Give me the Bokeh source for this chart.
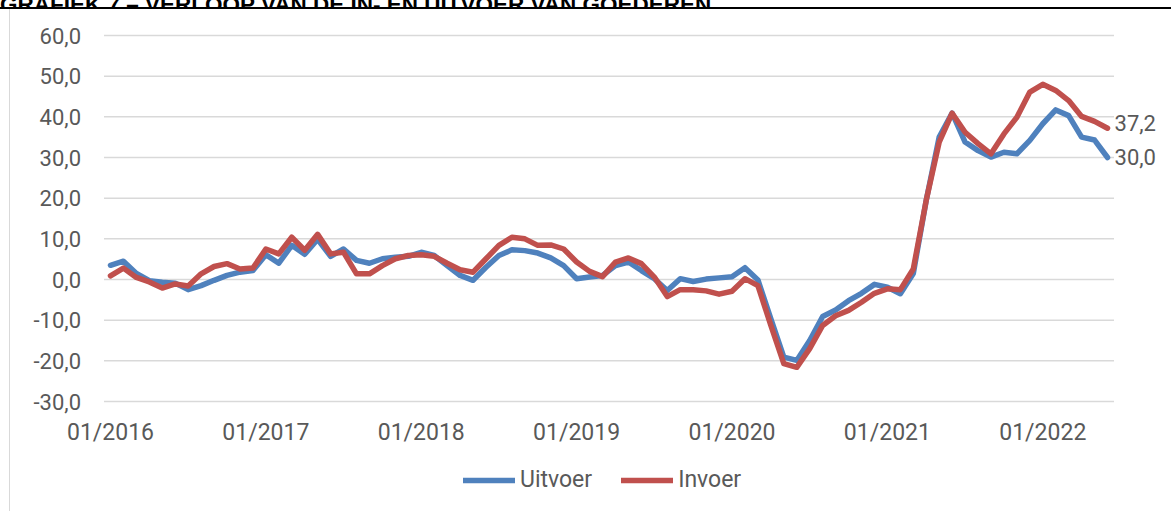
from bokeh.plotting import figure
from bokeh.models import Range1d, Legend, LegendItem, Label, Div
from bokeh.layouts import column, row
from bokeh.core.properties import value
from bokeh.embed import file_html
from bokeh.resources import INLINE

# ---- data (monthly, 01/2016 .. 06/2022) ----
months = list(range(78))
uitvoer = [3.5, 4.5, 1.5, -0.3, -0.7, -0.9, -2.5, -1.5, -0.2, 1.0, 1.8, 2.2,
           6.1, 4.0, 8.4, 6.2, 9.9, 5.7, 7.5, 4.7, 4.0, 5.1, 5.5, 5.7,
           6.7, 5.9, 3.4, 1.0, -0.2, 3.0, 5.9, 7.3, 7.1, 6.5, 5.3, 3.4,
           0.2, 0.6, 1.0, 3.4, 4.3, 2.2, 0.2, -2.7, 0.2, -0.5, 0.1, 0.4,
           0.7, 2.9, -0.1, -9.7, -19.1, -19.9, -15.0, -9.1, -7.5, -5.2, -3.4, -1.2,
           -1.9, -3.5, 1.5, 19.5, 35.0, 40.9, 33.8, 31.7, 30.1, 31.3, 30.9, 34.2,
           38.3, 41.7, 40.3, 35.0, 34.3, 30.0]
invoer = [0.9, 2.8, 0.5, -0.6, -2.1, -1.1, -1.6, 1.4, 3.2, 3.9, 2.6, 2.8,
          7.5, 6.3, 10.4, 7.2, 11.1, 6.3, 6.7, 1.4, 1.4, 3.4, 5.1, 5.9,
          6.1, 5.7, 4.0, 2.4, 1.8, 5.1, 8.4, 10.4, 10.0, 8.4, 8.5, 7.5,
          4.3, 2.0, 0.7, 4.3, 5.3, 3.9, 0.6, -4.2, -2.5, -2.5, -2.8, -3.6,
          -2.9, 0.2, -1.5, -11.3, -20.7, -21.6, -17.0, -11.3, -8.9, -7.6, -5.6, -3.4,
          -2.3, -2.5, 2.6, 19.5, 33.8, 40.9, 36.2, 33.4, 30.9, 35.8, 39.9, 46.1,
          48.0, 46.5, 44.0, 40.1, 38.9, 37.2]
series_names = ["Uitvoer", "Invoer"]
x_ticks = [0, 12, 24, 36, 48, 60, 72]
x_tick_labels = ["01/2016", "01/2017", "01/2018", "01/2019", "01/2020", "01/2021", "01/2022"]
y_ticks = [-30, -20, -10, 0, 10, 20, 30, 40, 50, 60]
y_tick_labels = ["-30,0", "-20,0", "-10,0", "0,0", "10,0", "20,0", "30,0", "40,0", "50,0", "60,0"]
end_labels = ["30,0", "37,2"]
title_text = "GRAFIEK 7 \u2013 VERLOOP VAN DE IN- EN UITVOER VAN GOEDEREN"

FONT = "Roboto"
TXT = "#595959"
BLUE = "#4F81BD"
RED = "#C0504D"

# layout geometry (pixels)
X_LO, X_HI = -0.5, 77.5          # category axis extent
PLOT_PX = 1010                   # px between X_LO and X_HI
LEFT_PX = 93.5                   # px from frame left to X_LO
FRAME_W = 1160
FRAME_H = 502
TOP_PX = 26
Y_TOP, Y_BOT = 60, -30
Y_PX = 366                       # px between Y_BOT and Y_TOP
upx = (X_HI - X_LO) / PLOT_PX
x_start = X_LO - LEFT_PX * upx
x_end = x_start + FRAME_W * upx
vpx = (Y_TOP - Y_BOT) / Y_PX
y_end = Y_TOP + TOP_PX * vpx
y_start = y_end - FRAME_H * vpx

p = figure(frame_width=FRAME_W, frame_height=FRAME_H,
           min_border_left=0, min_border_right=0, min_border_top=0, min_border_bottom=0,
           x_range=Range1d(x_start, x_end), y_range=Range1d(y_start, y_end),
           x_axis_location=None, y_axis_location=None,
           output_backend="svg", toolbar_location=None,
           background_fill_color="white", border_fill_color="white")
p.outline_line_color = None
p.grid.grid_line_color = None
p.grid.visible = False

# horizontal gridlines over the category extent
p.segment(x0=[X_LO] * len(y_ticks), x1=[X_HI] * len(y_ticks), y0=y_ticks, y1=y_ticks,
          line_color="#D9D9D9", line_width=1.5)

# y tick labels
p.text(x=[X_LO] * len(y_ticks), y=y_ticks, text=y_tick_labels, x_offset=-23,
       text_align="right", text_baseline="middle",
       text_font=value(FONT), text_font_size=value("22px"), text_color=TXT)
# x tick labels
p.text(x=x_ticks, y=[Y_BOT] * len(x_ticks), text=x_tick_labels, y_offset=31,
       text_align="center", text_baseline="middle",
       text_font=value(FONT), text_font_size=value("23px"), text_color=TXT)

r1 = p.line(months, uitvoer, line_color=BLUE, line_width=5.5, line_join="round", line_cap="round")
r2 = p.line(months, invoer, line_color=RED, line_width=5.5, line_join="round", line_cap="round")

p.add_layout(Label(x=months[-1], y=uitvoer[-1], text=end_labels[0], x_offset=7, y_offset=1,
                   text_baseline="middle", text_font=FONT, text_font_size="22px", text_color=TXT))
p.add_layout(Label(x=months[-1], y=invoer[-1], text=end_labels[1], x_offset=7, y_offset=5,
                   text_baseline="middle", text_font=FONT, text_font_size="22px", text_color=TXT))

legend = Legend(items=[LegendItem(label=series_names[0], renderers=[r1]),
                       LegendItem(label=series_names[1], renderers=[r2])],
                orientation="horizontal", location=(453, 18),
                glyph_width=52, glyph_height=20, label_height=20, label_standoff=5, spacing=29,
                padding=0, margin=0, border_line_color=None, background_fill_alpha=0,
                label_text_font=FONT, label_text_font_size="23px", label_text_color=TXT)
p.add_layout(legend)

title_div = Div(text='<div style="margin-top:-15px;white-space:nowrap;font-family:Liberation Sans,Arial,sans-serif;'
                     'font-weight:bold;font-size:22.5px;color:#000;">' + title_text + '</div>',
                width=1171, height=7, margin=0, styles={"overflow": "hidden"})
topline = Div(width=1171, height=2, margin=0, styles={"background-color": "#000000"})
left_pad = Div(width=9, height=502, margin=0)
left_line = Div(width=1, height=502, margin=0, styles={"background-color": "#D9D9D9"})
layout = column(title_div, topline, row(left_pad, left_line, p, spacing=0), spacing=0)

open("out.html", "w").write(file_html(layout, INLINE))
